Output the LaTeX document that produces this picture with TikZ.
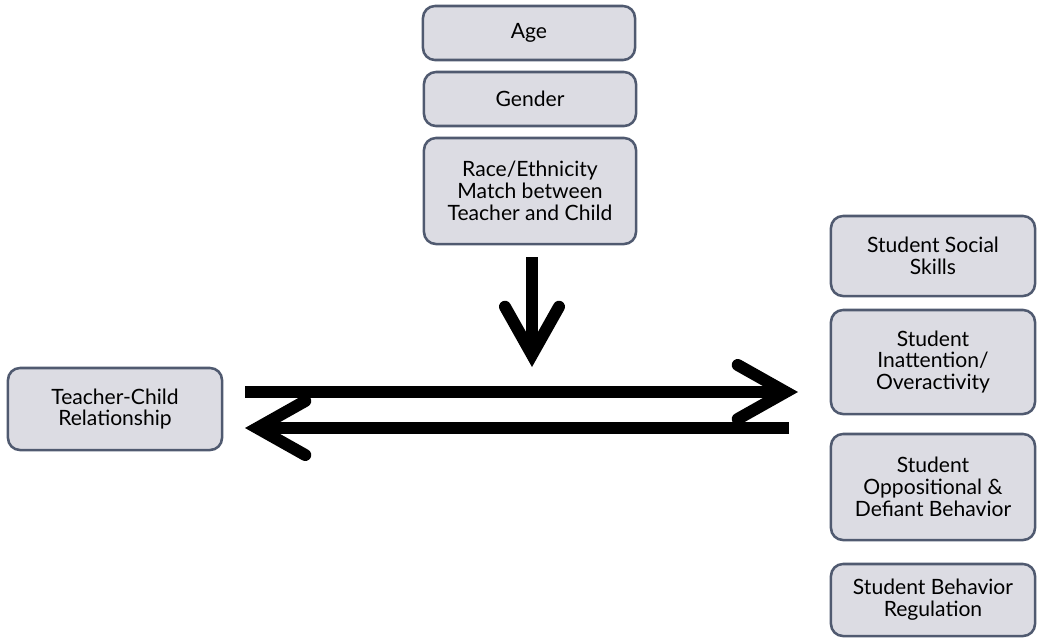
\documentclass[tikz,border=0pt]{standalone}
\usepackage{fontspec}
\setmainfont{Lato}
\usetikzlibrary{arrows.meta}

\definecolor{boxfill}{HTML}{DCDCE3}
\definecolor{boxline}{HTML}{505A70}

\tikzset{
  factor/.style={draw=boxline, fill=boxfill, line width=1.8pt,
    rounded corners=0.3cm, align=center, inner sep=0pt,
    font=\fontsize{15}{15.5}\selectfont},
  bigarrow/.style={line width=0.3cm,
    -{Straight Barb[length=1.2cm, width=1.35cm, line width=0.3cm,
      line cap=round, line join=miter]}}
}

\begin{document}
\begin{tikzpicture}[x=0.025cm, y=-0.025cm]
    % Frame of the picture
    \useasboundingbox (0,0) rectangle (1039,640);

    % Moderators
    \node[factor, minimum width=5.3cm, minimum height=1.35cm] (age) at (529,33) {Age};
    \node[factor, minimum width=5.3cm, minimum height=1.35cm] (gender) at (530,99) {Gender};
    \node[factor, minimum width=5.3cm, minimum height=2.65cm] (race) at (530,191)
        {Race/Ethnicity\\Match between\\Teacher and Child};

    % Predictor
    \node[factor, minimum width=5.35cm, minimum height=2.05cm] (tcr) at (115,409)
        {Teacher-Child\\Relationship};

    % Outcomes
    \node[factor, minimum width=5.1cm, minimum height=2cm] (social) at (933,256)
        {Student Social\\Skills};
    \node[factor, minimum width=5.1cm, minimum height=2.6cm] (inatt) at (933,362)
        {Student\\Inattention/\\Overactivity};
    \node[factor, minimum width=5.1cm, minimum height=2.65cm] (oppos) at (933,487)
        {Student\\Oppositional \&\\Defiant Behavior};
    \node[factor, minimum width=5.1cm, minimum height=1.8cm] (regul) at (933,600)
        {Student Behavior\\Regulation};

    % Arrow ends
    \coordinate (modtop) at (532,257);
    \coordinate (modtip) at (532,367);
    \coordinate (fwdstart) at (245,392);
    \coordinate (fwdtip) at (798,392);
    \coordinate (backstart) at (789,428);
    \coordinate (backtip) at (245,428);

    % Arrows
    \draw[bigarrow] (modtop) -- (modtip);
    \draw[bigarrow] (fwdstart) -- (fwdtip);
    \draw[bigarrow] (backstart) -- (backtip);
\end{tikzpicture}
\end{document}
